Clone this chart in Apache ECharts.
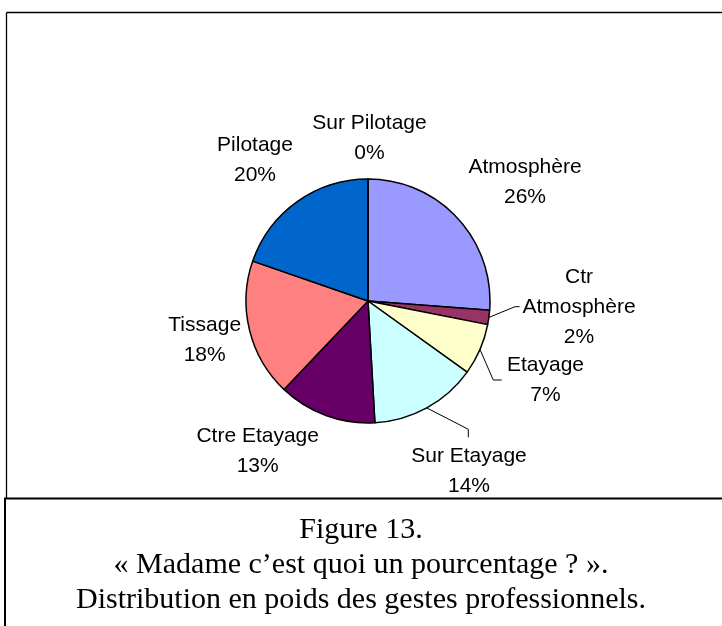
<!DOCTYPE html>
<html><head><meta charset="utf-8">
<script src="https://cdn.jsdelivr.net/npm/echarts@6/dist/echarts.min.js"></script>
<style>html,body{margin:0;padding:0;background:#fff}#c{width:722px;height:626px}</style>
</head><body><div id="c"></div>
<script>
// ---- data ----
const categories = ['Atmosphère','Ctr Atmosphère','Etayage','Sur Etayage','Ctre Etayage','Tissage','Pilotage','Sur Pilotage'];
const values = [26.2, 1.9, 6.8, 14.2, 13.0, 18.2, 19.7, 0];
const labelNames = ['Atmosphère','Ctr\nAtmosphère','Etayage','Sur Etayage','Ctre Etayage','Tissage','Pilotage','Sur Pilotage'];
const captionLines = ['Figure 13.','« Madame c’est quoi un pourcentage ? ».','Distribution en poids des gestes professionnels.'];

// ---- styles / layout ----
const colors = ['#9999FF','#993366','#FFFFCC','#CCFFFF','#660066','#FF8080','#0066CC','#CCCCFF'];
const labelCenters = [[525,182],[579,307],[545.5,380],[469,471.5],[257.7,451],[204.7,340],[255,160],[369.5,138]];
const leaderBends = {1:[[515,306.7],[519.5,306.7]], 2:[[493.3,380],[501.7,380]], 3:[[468.3,429.3],[468.3,437.3]]};

const chart = echarts.init(document.getElementById('c'), null, {renderer:'canvas'});
const data = categories.map((c,i)=>({
  name: c, value: values[i],
  itemStyle: {color: colors[i]},
  labelLine: {show: !!leaderBends[i]}
}));

const graphics = [
  {type:'line', shape:{x1:6.5,y1:12.5,x2:722,y2:12.5}, style:{stroke:'#000',lineWidth:1.3}},
  {type:'line', shape:{x1:6.5,y1:12.5,x2:6.5,y2:498}, style:{stroke:'#000',lineWidth:1.3}},
  {type:'line', shape:{x1:4,y1:498.5,x2:722,y2:498.5}, style:{stroke:'#000',lineWidth:2.2}},
  {type:'line', shape:{x1:5,y1:498,x2:5,y2:626}, style:{stroke:'#000',lineWidth:2}}
];
captionLines.forEach((t,i)=>{
  graphics.push({type:'text', x:361, y:530+35*i, style:{text:t, fill:'#000', font:'30px "Liberation Serif", "Times New Roman", serif', align:'center', verticalAlign:'middle'}});
});

chart.setOption({
  animation:false,
  backgroundColor:'#fff',
  graphic: graphics,
  series:[{
    type:'pie',
    center:[368,301],
    radius:122,
    startAngle:90,
    clockwise:true,
    avoidLabelOverlap:false,
    stillShowZeroSum:true,
    emphasis:{disabled:true},
    itemStyle:{borderColor:'#000', borderWidth:1.5},
    label:{
      show:true,
      position:'outside',
      color:'#000',
      fontFamily:'"Liberation Sans", Arial, sans-serif',
      fontSize:21,
      lineHeight:30,
      align:'center',
      formatter: p => labelNames[p.dataIndex] + '\n' + Math.round(p.percent) + '%'
    },
    labelLine:{lineStyle:{color:'#000', width:1}},
    labelLayout: function(p){
      const c = labelCenters[p.dataIndex];
      const r = {x:c[0], y:c[1], align:'center', verticalAlign:'middle'};
      const b = leaderBends[p.dataIndex];
      if (b && p.labelLinePoints) {
        r.labelLinePoints = [p.labelLinePoints[0], b[0], b[1]];
      }
      return r;
    },
    data:data
  }]
});
</script></body></html>
